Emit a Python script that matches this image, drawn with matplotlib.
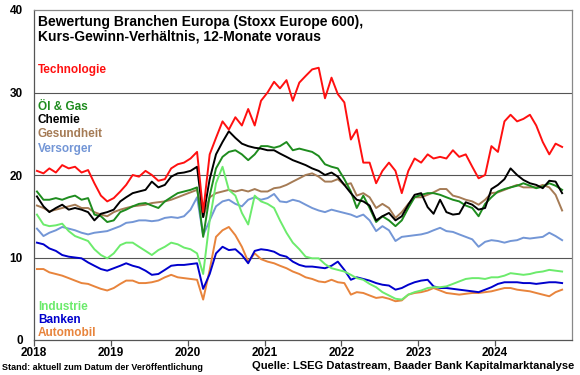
import matplotlib
matplotlib.use("Agg")
import matplotlib.pyplot as plt
import pandas as pd

plt.rcParams['font.family'] = ['Liberation Sans', 'DejaVu Sans']

# monthly mid-month observations, Jan 2018 .. Nov 2024
dates = pd.date_range('2018-01-01', '2024-11-01', freq='MS') + pd.Timedelta(days=14)

technologie = [
    20.5, 20.2, 20.8, 20.3, 21.2, 20.8, 21.0, 20.3, 20.6, 19.0, 17.5, 16.8,
    17.2, 18.0, 18.8, 20.0, 19.8, 20.5, 20.0, 19.3, 19.5, 20.8, 21.3, 21.5,
    22.0, 22.8, 15.5, 22.5, 24.5, 26.5, 25.5, 27.0, 26.0, 28.0, 26.0, 29.0,
    30.0, 31.3, 30.5, 31.5, 29.0, 31.2, 32.0, 32.8, 33.0, 29.3, 31.8, 29.8,
    28.8, 24.3, 25.5, 21.5, 21.5, 19.0, 20.5, 21.5, 20.5, 17.8, 20.5, 22.0,
    21.5, 22.5, 22.0, 22.2, 22.0, 23.0, 22.2, 22.5, 21.0, 19.6, 20.0, 23.5,
    22.8, 26.5, 27.3, 26.5, 26.8, 27.3, 26.0, 24.0, 22.5, 23.8, 23.4]
oel_gas = [
    18.0, 17.0, 17.0, 17.2, 17.0, 17.3, 17.5, 17.0, 17.2, 15.2, 15.0, 14.3,
    14.5, 15.5, 15.8, 16.2, 16.5, 16.6, 16.3, 16.0, 16.8, 17.3, 17.8, 18.0,
    18.2, 18.5, 12.5, 17.5, 20.8, 22.2, 22.8, 23.0, 22.5, 21.8, 22.5, 23.5,
    23.5, 23.3, 23.5, 24.0, 23.0, 23.2, 23.0, 22.8, 22.3, 21.3, 21.0, 20.8,
    19.5, 18.0, 16.0, 17.5, 16.0, 14.3, 15.0, 14.5, 13.8, 14.5, 16.0, 17.3,
    17.6, 17.8, 17.8, 17.6, 17.3, 17.0, 16.8, 16.3, 16.0, 15.0, 16.5, 17.3,
    18.0, 18.3, 18.5, 18.7, 19.0, 18.7, 18.4, 18.6, 19.0, 18.7, 18.2]
chemie = [
    17.4, 16.2, 15.5, 16.0, 16.4, 15.8, 16.0, 15.8, 15.5, 14.5, 15.3, 15.5,
    15.8, 16.8, 17.3, 17.8, 18.0, 18.2, 19.2, 18.5, 18.8, 19.8, 20.2, 20.3,
    20.5, 21.0, 14.9, 19.5, 22.5, 24.0, 25.3, 24.5, 23.8, 23.5, 23.3, 23.2,
    23.0, 23.0, 22.6, 22.2, 21.8, 21.5, 21.2, 20.8, 20.5, 20.0, 20.3, 19.8,
    18.8, 17.8, 17.0, 16.8, 16.3, 14.5, 15.0, 15.4, 14.5, 15.0, 16.4, 17.6,
    17.8, 16.1, 15.3, 17.0, 15.5, 15.2, 15.3, 16.7, 16.4, 15.8, 16.0, 18.3,
    18.8, 19.5, 20.8, 20.0, 19.4, 19.0, 18.8, 18.4, 19.3, 19.2, 17.8]
gesundheit = [
    16.3, 16.0, 15.6, 15.8, 16.0, 16.2, 16.4, 16.0, 16.0, 15.5, 15.2, 15.0,
    15.5, 15.8, 16.0, 16.2, 16.3, 16.4, 16.6, 16.7, 16.8, 17.0, 17.3, 17.6,
    17.9, 18.2, 14.9, 17.3, 17.8, 18.0, 18.2, 18.0, 18.2, 18.0, 18.3, 18.0,
    18.0, 18.4, 18.5, 18.8, 19.2, 19.6, 20.0, 20.2, 19.8, 19.2, 19.2, 19.5,
    18.8, 19.0, 17.5, 17.8, 17.3, 16.0, 16.5, 16.0, 14.8, 15.5, 16.5, 17.3,
    17.3, 17.6, 17.9, 18.3, 18.3, 17.5, 17.3, 17.0, 16.8, 16.4, 17.0, 17.8,
    17.9, 18.2, 18.5, 18.8, 18.5, 18.5, 18.5, 18.8, 18.5, 17.6, 15.7]
versorger = [
    13.5, 12.6, 13.0, 13.3, 13.7, 13.5, 13.3, 13.0, 12.8, 13.0, 13.1, 13.2,
    13.5, 13.8, 14.2, 14.3, 14.5, 14.5, 14.4, 14.5, 14.8, 14.9, 14.8, 15.0,
    15.8, 17.3, 12.7, 14.5, 16.2, 16.8, 17.0, 16.5, 16.2, 17.0, 17.3, 17.0,
    17.2, 17.7, 16.8, 16.7, 17.0, 16.8, 16.4, 16.0, 15.7, 15.5, 15.8, 15.6,
    15.4, 15.2, 14.9, 15.2, 14.5, 13.2, 13.8, 13.3, 12.0, 12.5, 12.6, 12.7,
    12.8, 13.0, 13.3, 13.6, 13.2, 13.1, 12.8, 12.5, 12.2, 11.3, 11.9, 12.1,
    12.0, 11.8, 12.0, 12.1, 12.4, 12.3, 12.4, 12.5, 13.0, 12.6, 12.1]
industrie = [
    15.2, 14.0, 13.8, 13.9, 14.1, 13.2, 12.6, 12.3, 12.0, 11.0, 10.3, 9.9,
    10.5, 11.5, 11.8, 11.8, 11.3, 10.8, 10.3, 10.9, 11.3, 11.8, 11.6, 11.2,
    11.0, 10.5, 8.0, 14.5, 19.0, 21.0, 18.2, 17.5, 15.4, 14.0, 17.5, 16.8,
    16.5, 16.0, 14.5, 13.0, 11.8, 11.0, 10.1, 9.9, 9.9, 9.2, 8.7, 8.5,
    8.3, 7.9, 7.5, 7.3, 6.8, 6.4, 5.8, 5.4, 5.0, 4.9, 5.5, 5.8,
    6.0, 6.3, 6.4, 6.4, 6.5, 6.8, 7.1, 7.4, 7.5, 7.5, 7.4, 7.6,
    7.6, 7.8, 8.1, 8.0, 7.9, 8.0, 8.2, 8.3, 8.5, 8.4, 8.3]
banken = [
    11.8, 11.6, 11.1, 10.8, 10.3, 10.1, 10.0, 9.9, 9.4, 9.0, 8.6, 8.4,
    8.7, 9.0, 9.3, 9.0, 8.8, 8.4, 7.9, 8.0, 8.5, 9.0, 9.1, 9.1,
    9.2, 9.3, 6.2, 8.0, 10.5, 11.3, 10.9, 11.0, 10.3, 9.3, 10.8, 11.0,
    10.9, 10.7, 10.3, 10.1, 9.5, 9.1, 8.9, 8.9, 8.8, 8.7, 9.0, 9.5,
    8.5, 7.3, 7.6, 7.4, 7.2, 6.9, 6.7, 6.6, 6.1, 6.3, 6.7, 7.0,
    7.2, 7.3, 6.5, 6.3, 6.3, 6.2, 6.1, 6.0, 5.9, 5.8, 6.1, 6.4,
    6.8, 7.0, 7.0, 7.0, 6.9, 6.9, 6.8, 6.9, 7.0, 7.0, 6.9]
automobil = [
    8.6, 8.6, 8.2, 8.0, 7.8, 7.5, 7.2, 6.9, 6.8, 6.5, 6.2, 6.0,
    6.3, 6.8, 7.2, 7.2, 6.9, 6.9, 7.0, 7.2, 7.6, 7.9, 7.6, 7.5,
    7.4, 7.3, 4.9, 8.5, 12.5, 13.3, 13.7, 12.7, 11.3, 9.5, 10.5, 9.8,
    9.5, 9.3, 9.0, 8.7, 8.3, 8.0, 7.6, 7.4, 7.1, 7.0, 7.3, 7.0,
    6.9, 5.5, 5.8, 5.7, 5.4, 5.1, 5.2, 5.0, 4.7, 4.8, 5.5, 5.7,
    5.8, 6.0, 6.3, 6.0, 5.7, 5.6, 5.5, 5.6, 5.7, 5.7, 5.8, 5.9,
    6.1, 6.3, 6.3, 6.1, 6.0, 5.9, 5.7, 5.5, 5.3, 5.8, 6.1]

series_names = ['Technologie', 'Öl & Gas', 'Chemie', 'Gesundheit', 'Versorger',
                'Industrie', 'Banken', 'Automobil']
series_values = [technologie, oel_gas, chemie, gesundheit, versorger,
                 industrie, banken, automobil]
colors = ['#FF1010', '#1E8C1E', '#000000', '#A57B55', '#7396D6',
          '#6CEB6C', '#0000CC', '#E8843C']
year_ticks = ['2018', '2019', '2020', '2021', '2022', '2023', '2024']

fig = plt.figure(figsize=(5.8, 3.75), dpi=100)
ax = fig.add_axes([34/580, 1-340/375, (572-34)/580, (340-10)/375])

# draw order: back to front
order = [4, 3, 7, 6, 5, 1, 2, 0]
for k in order:
    ax.plot(dates, series_values[k], color=colors[k], lw=1.4, zorder=3)

ax.set_ylim(0, 40)
ax.set_yticks([0, 10, 20, 30, 40])
ax.set_xlim(pd.Timestamp('2018-01-01'), pd.Timestamp('2025-01-01'))
ax.set_xticks([pd.Timestamp(y + '-01-01') for y in year_ticks])
ax.set_xticklabels(year_ticks)
for y in [10, 20, 30]:
    ax.axhline(y, color='#555555', lw=0.8, zorder=1)

for s in ax.spines.values():
    s.set_color('#888888')
    s.set_linewidth(0.9)
ax.spines['left'].set_color('#555555')
ax.spines['bottom'].set_color('#555555')
ax.tick_params(axis='y', length=0, pad=8, labelsize=8.5)
ax.tick_params(axis='x', length=4, width=0.9, color='#555555', pad=1, labelsize=8.5)
for lab in ax.get_xticklabels() + ax.get_yticklabels():
    lab.set_fontweight('bold')

ax.text(0.008, 0.985, 'Bewertung Branchen Europa (Stoxx Europe 600),\nKurs-Gewinn-Verhältnis, 12-Monate voraus',
        transform=ax.transAxes, ha='left', va='top', fontsize=10, fontweight='bold',
        linespacing=1.05)

label_y = [70, 107, 120, 134, 149, 307, 320, 333]
for name, col, yp in zip(series_names, colors, label_y):
    fig.text(38/580, 1 - yp/375, name, color=col, fontsize=8.5, fontweight='bold',
             ha='left', va='center')

fig.text(2/580, 1 - 368/375, 'Stand: aktuell zum Datum der Veröffentlichung',
         fontsize=6.5, fontweight='bold', ha='left', va='center')
fig.text(574/580, 1 - 366/375, 'Quelle: LSEG Datastream, Baader Bank Kapitalmarktanalyse',
         fontsize=8, fontweight='bold', ha='right', va='center')

fig.savefig('out.png', dpi=100)
